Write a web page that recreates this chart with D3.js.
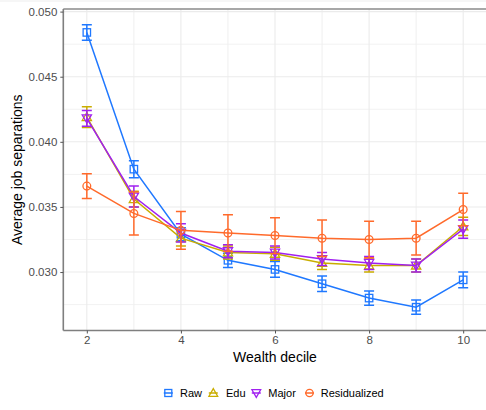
<!DOCTYPE html>
<html><head><meta charset="utf-8">
<script src="https://cdn.jsdelivr.net/npm/d3@7"></script>
<style>body{margin:0;background:#fff}svg{display:block;font-family:"Liberation Sans",Arial,sans-serif}</style>
</head><body><svg id="c" width="486" height="410"></svg>
<script>
const deciles = [2, 3, 4, 5, 6, 7, 8, 9, 10];
const raw      = [0.0484, 0.0379, 0.0329, 0.0309, 0.0302, 0.0291, 0.0280, 0.0273, 0.0294];
const rawErr   = [0.0006, 0.00065, 0.0005, 0.00055, 0.0006, 0.0006, 0.00055, 0.00055, 0.0006];
const edu      = [0.0419, 0.0356, 0.0326, 0.0315, 0.0314, 0.0307, 0.0305, 0.0305, 0.0335];
const eduErr   = [0.0008, 0.0006, 0.0006, 0.0005, 0.0005, 0.0005, 0.0005, 0.0005, 0.0007];
const major    = [0.0418, 0.0358, 0.0330, 0.0316, 0.0315, 0.0310, 0.0307, 0.0305, 0.0333];
const majorErr = [0.0006, 0.0008, 0.0007, 0.0005, 0.0005, 0.0005, 0.0005, 0.0005, 0.0007];
const resid    = [0.0366, 0.0345, 0.0332, 0.0330, 0.0328, 0.0326, 0.0325, 0.0326, 0.0348];
const residErr = [0.00095, 0.00165, 0.00145, 0.0014, 0.00137, 0.0014, 0.0014, 0.0013, 0.00125];
const seriesNames = ["Raw", "Edu", "Major", "Residualized"];
const xTicks = [2, 4, 6, 8, 10];
const yTicks = [0.030, 0.035, 0.040, 0.045, 0.050];

const colors = {Raw:"#1f78ff", Edu:"#c9ad00", Major:"#a020f0", Residualized:"#ff6a2b"};
const shapes = {Raw:"square", Edu:"tri", Major:"itri", Residualized:"circle"};
const series = [
  {name:"Raw", v:raw, e:rawErr},
  {name:"Edu", v:edu, e:eduErr},
  {name:"Major", v:major, e:majorErr},
  {name:"Residualized", v:resid, e:residErr}
];

const svg = d3.select("#c");
const L = 63.3, R = 486.7, T = 9, B = 330.5;
const x = d3.scaleLinear().domain([1.5, 10.5]).range([L, R]);
const y = d3.scaleLinear().domain([0.02551, 0.0502]).range([B, T]);

// grid
const g = svg.append("g");
const minorY = [0.0275, 0.0325, 0.0375, 0.0425, 0.0475];
const minorX = [3, 5, 7, 9];
minorY.forEach(v => g.append("line").attr("x1", L).attr("x2", R).attr("y1", y(v)).attr("y2", y(v)).attr("stroke", "#f2f2f2").attr("stroke-width", 1));
minorX.forEach(v => g.append("line").attr("y1", T).attr("y2", B).attr("x1", x(v)).attr("x2", x(v)).attr("stroke", "#efefef").attr("stroke-width", 1));
yTicks.forEach(v => g.append("line").attr("x1", L).attr("x2", R).attr("y1", y(v)).attr("y2", y(v)).attr("stroke", "#ebebeb").attr("stroke-width", 1.1));
xTicks.forEach(v => g.append("line").attr("y1", T).attr("y2", B).attr("x1", x(v)).attr("x2", x(v)).attr("stroke", "#ebebeb").attr("stroke-width", 1.1));

// top faint band & top border
svg.append("rect").attr("x", 0).attr("y", 0).attr("width", 486).attr("height", 2).attr("fill", "#f6f6f6");
svg.append("line").attr("x1", L).attr("x2", R).attr("y1", T).attr("y2", T).attr("stroke", "#8a8a8a").attr("stroke-width", 1.5);

// axes
const yAxis = d3.axisLeft(y).tickValues(yTicks).tickFormat(d3.format(".3f")).tickSize(3).tickPadding(3);
const xAxis = d3.axisBottom(x).tickValues(xTicks).tickFormat(d3.format("d")).tickSize(3).tickPadding(2);
const ya = svg.append("g").attr("transform", `translate(${L},0)`).call(yAxis);
const xa = svg.append("g").attr("transform", `translate(0,${B})`).call(xAxis);
[ya, xa].forEach(a => {
  a.select(".domain").attr("stroke", "#7f7f7f").attr("stroke-width", 1.6);
  a.selectAll(".tick line").attr("stroke", "#555").attr("stroke-width", 1);
  a.selectAll(".tick text").attr("fill", "#4d4d4d").style("font-size", "11.5px").style("font-family", '"Liberation Sans",Arial,sans-serif');
});
ya.select(".domain").attr("d", `M0,${T}V${B}`);
xa.select(".domain").attr("d", `M${L},0H${R}`);

svg.append("text").attr("transform", `translate(17,${(T + B) / 2}) rotate(-90)`).attr("text-anchor", "middle")
  .attr("dominant-baseline", "central").style("font-size", "14px").attr("fill", "#000").text("Average job separations");
svg.append("text").attr("x", (L + R) / 2).attr("y", 357).attr("text-anchor", "middle")
  .attr("dominant-baseline", "central").style("font-size", "14px").attr("fill", "#000").text("Wealth decile");

function marker(sel, shape, cx, cy, color, s) {
  if (shape === "square") {
    sel.append("rect").attr("x", cx - s).attr("y", cy - s).attr("width", 2 * s).attr("height", 2 * s)
      .attr("fill", "none").attr("stroke", color).attr("stroke-width", 1.3);
  } else if (shape === "circle") {
    sel.append("circle").attr("cx", cx).attr("cy", cy).attr("r", s * 1.05).attr("fill", "none").attr("stroke", color).attr("stroke-width", 1.3);
  } else if (shape === "tri") {
    const h = s * 1.25;
    sel.append("path").attr("d", `M${cx},${cy - h}L${cx + h},${cy + h * 0.75}L${cx - h},${cy + h * 0.75}Z`)
      .attr("fill", "none").attr("stroke", color).attr("stroke-width", 1.3);
  } else {
    const h = s * 1.25;
    sel.append("path").attr("d", `M${cx},${cy + h}L${cx + h},${cy - h * 0.75}L${cx - h},${cy - h * 0.75}Z`)
      .attr("fill", "none").attr("stroke", color).attr("stroke-width", 1.3);
  }
}

const line = d3.line().x(d => x(d[0])).y(d => y(d[1]));
series.forEach(s => {
  const c = colors[s.name];
  const sg = svg.append("g");
  const pts = deciles.map((d, i) => [d, s.v[i], s.e[i]]);
  sg.append("path").attr("d", line(pts)).attr("fill", "none").attr("stroke", c).attr("stroke-width", 1.5);
  pts.forEach(p => {
    const px = x(p[0]), y1 = y(p[1] - p[2]), y2 = y(p[1] + p[2]);
    sg.append("path").attr("d", `M${px - 5},${y1}H${px + 5}M${px},${y1}V${y2}M${px - 5},${y2}H${px + 5}`)
      .attr("fill", "none").attr("stroke", c).attr("stroke-width", 1.5);
    marker(sg, shapes[s.name], px, y(p[1]), c, 3.7);
  });
});

// legend
const legendPos = [
  {name:"Raw", ix:168.3, tx:180},
  {name:"Edu", ix:213.3, tx:226},
  {name:"Major", ix:256.3, tx:268.3},
  {name:"Residualized", ix:309.5, tx:320.7}
];
const ly = 393;
legendPos.forEach(l => {
  const c = colors[l.name];
  const lg = svg.append("g");
  lg.append("line").attr("x1", l.ix - 4.5).attr("x2", l.ix + 4.5).attr("y1", ly).attr("y2", ly).attr("stroke", c).attr("stroke-width", 1.5);
  marker(lg, shapes[l.name], l.ix, ly, c, 3.5);
  lg.append("text").attr("x", l.tx).attr("y", ly).attr("dominant-baseline", "central").style("font-size", "11px").attr("fill", "#000").text(l.name);
});
</script></body></html>
